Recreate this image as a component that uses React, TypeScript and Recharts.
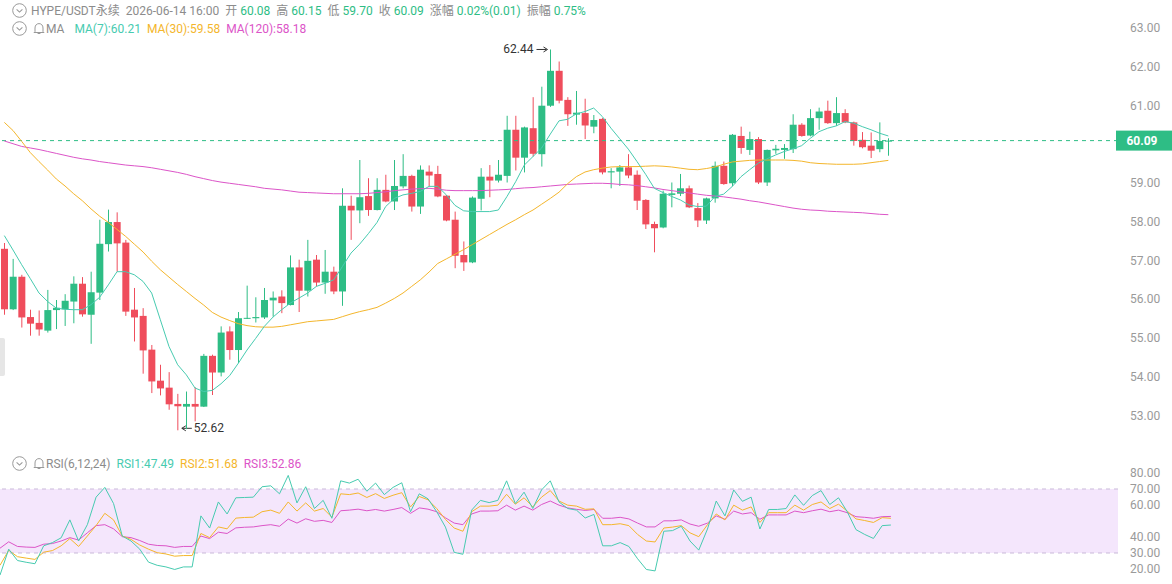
import React from "react";
import {
  ComposedChart,
  Bar,
  Line,
  XAxis,
  YAxis,
  ReferenceLine,
  ReferenceArea,
} from "recharts";

// candles, oldest first
const opens = [
  57.3, 55.74, 56.58, 55.54, 55.39, 55.19, 55.72, 55.74, 55.94, 56.4,
  55.6, 56.17, 57.42, 57.99, 57.46, 55.73, 55.57, 54.7, 53.9, 53.72,
  53.3, 53.23, 53.3, 53.23, 54.54, 54.11, 55.17, 54.69, 55.5, 55.51,
  55.53, 55.97, 56.07, 55.85, 56.82, 56.22, 57.02, 56.43, 56.71, 56.2,
  58.41, 58.29, 58.66, 58.3, 58.82, 58.52, 58.91, 59.18, 58.39, 59.29,
  59.23, 58.67, 58.05, 57.14, 56.95, 58.59, 59.16, 59.06, 59.18, 60.37,
  59.65, 60.41, 59.74, 60.99, 61.89, 61.14, 60.76, 60.8, 60.45, 60.65,
  59.27, 59.29, 59.4, 59.21, 58.56, 57.94, 57.85, 58.69, 58.72, 58.86,
  58.35, 58.03, 58.6, 59.44, 58.99, 60.21, 59.85, 60.13, 59.01, 59.84,
  59.85, 59.87, 60.5, 60.22, 60.67, 60.86, 60.54, 60.8, 60.56, 60.11,
  59.96, 59.87, 60.08,
];
const highs = [
  57.45, 57.04, 56.63, 55.73, 55.71, 56.24, 55.98, 56.13, 56.59, 56.57,
  56.71, 58.05, 58.31, 58.24, 57.53, 56.29, 55.77, 54.82, 54.31, 54.12,
  53.56, 53.62, 53.73, 54.59, 54.57, 55.3, 55.3, 55.67, 56.35, 56.05,
  56.29, 56.2, 56.23, 57.13, 57.02, 57.53, 57.14, 57.27, 56.84, 58.86,
  58.67, 59.59, 59.12, 59.12, 59.21, 59.59, 59.74, 59.21, 59.45, 59.45,
  59.44, 58.69, 58.26, 57.49, 58.65, 59.38, 59.46, 59.59, 60.73, 60.73,
  60.45, 61.21, 61.48, 62.44, 62.13, 61.21, 61.37, 61.17, 60.75, 60.67,
  59.38, 59.46, 59.74, 59.32, 58.58, 58.0, 58.8, 59.01, 59.23, 58.93,
  58.48, 58.62, 59.55, 59.55, 60.26, 60.45, 60.32, 60.18, 59.86, 59.98,
  60.0, 60.77, 60.54, 60.9, 60.94, 61.12, 61.21, 60.9, 60.58, 60.31,
  60.3, 60.56, 60.15,
];
const lows = [
  55.6, 55.72, 55.27, 55.06, 55.06, 55.14, 55.23, 55.31, 55.38, 55.55,
  54.85, 55.98, 57.23, 56.71, 55.57, 54.91, 54.08, 53.58, 53.52, 53.15,
  52.62, 52.65, 52.85, 53.22, 53.53, 54.01, 54.44, 54.35, 55.49, 55.4,
  55.49, 55.55, 55.64, 55.84, 55.67, 56.07, 56.33, 56.14, 56.13, 55.83,
  57.53, 57.96, 58.15, 58.29, 58.5, 58.3, 58.86, 58.26, 58.2, 58.91,
  58.63, 58.01, 56.8, 56.73, 56.93, 58.29, 58.63, 59.01, 59.01, 59.32,
  59.27, 59.68, 59.42, 60.96, 61.05, 60.47, 60.5, 60.13, 60.28, 59.22,
  58.86, 58.92, 59.12, 58.3, 57.81, 57.21, 57.83, 58.37, 58.66, 58.35,
  57.86, 57.94, 58.49, 58.95, 58.91, 59.75, 59.72, 58.97, 58.92, 59.75,
  59.62, 59.77, 60.19, 60.2, 60.37, 60.52, 60.47, 60.54, 59.96, 59.89,
  59.64, 59.79, 59.7,
];
const closes = [
  55.74, 56.58, 55.53, 55.37, 55.22, 55.72, 55.78, 55.96, 56.4, 55.61,
  56.18, 57.43, 57.99, 57.44, 55.68, 55.53, 54.68, 53.88, 53.7, 53.29,
  53.24, 53.3, 53.23, 54.54, 54.11, 55.14, 54.69, 55.51, 55.52, 55.54,
  55.98, 56.04, 55.9, 56.82, 56.22, 56.99, 56.43, 56.71, 56.2, 58.41,
  58.29, 58.63, 58.3, 58.82, 58.52, 58.92, 59.18, 58.39, 59.34, 59.19,
  58.65, 58.03, 57.12, 56.95, 58.62, 59.16, 59.06, 59.21, 60.37, 59.65,
  60.43, 59.75, 60.99, 61.89, 61.12, 60.77, 60.81, 60.48, 60.62, 59.27,
  59.3, 59.4, 59.19, 58.54, 57.93, 57.83, 58.72, 58.73, 58.86, 58.37,
  58.03, 58.6, 59.44, 58.97, 60.24, 59.9, 60.13, 59.01, 59.85, 59.88,
  59.9, 60.5, 60.21, 60.67, 60.84, 60.54, 60.8, 60.56, 60.08, 59.92,
  59.83, 60.08, 60.09,
];

// moving averages as drawn
const ma7 = [
  57.64, 57.27, 56.89, 56.53, 56.16, 55.94, 55.77, 55.74, 55.73, 55.73,
  55.86, 56.05, 56.37, 56.71, 56.71, 56.63, 56.46, 56.16, 55.47, 54.78,
  54.31, 54.05, 53.71, 53.62, 53.65, 53.82, 54.03, 54.35, 54.69, 54.99,
  55.3, 55.54, 55.73, 55.9, 56.03, 56.16, 56.33, 56.41, 56.5, 56.84,
  57.19, 57.42, 57.69, 57.98, 58.39, 58.6, 58.69, 58.73, 58.78, 58.91,
  58.91, 58.69, 58.42, 58.28, 58.26, 58.26, 58.26, 58.3, 58.65, 59.03,
  59.46, 59.68, 59.9, 60.26, 60.6, 60.64, 60.78, 60.84, 60.93, 60.71,
  60.41, 60.14, 59.87, 59.55, 59.22, 58.86, 58.75, 58.65, 58.56, 58.43,
  58.39, 58.4, 58.65, 58.71, 58.91, 59.16, 59.34, 59.51, 59.62, 59.72,
  59.81, 59.88, 59.96, 60.15, 60.32, 60.41, 60.47, 60.58, 60.54, 60.45,
  60.37, 60.28, 60.21,
];
const ma30 = [
  60.56, 60.35, 60.07, 59.78, 59.55, 59.33, 59.1, 58.92, 58.72, 58.54,
  58.33, 58.14, 57.98, 57.8, 57.62, 57.42, 57.22, 56.98, 56.76, 56.57,
  56.38, 56.2, 56.02, 55.85, 55.66, 55.54, 55.45, 55.37, 55.32, 55.29,
  55.28, 55.28, 55.3, 55.34, 55.38, 55.42, 55.44, 55.46, 55.48, 55.55,
  55.62, 55.68, 55.73, 55.79, 55.9, 56.02, 56.16, 56.33, 56.5, 56.7,
  56.92, 57.04, 57.16, 57.28, 57.41, 57.54, 57.67, 57.8, 57.93, 58.05,
  58.18, 58.3, 58.45, 58.6, 58.76, 58.98, 59.16, 59.28, 59.34, 59.38,
  59.41, 59.42, 59.42, 59.42, 59.43, 59.44, 59.43, 59.41, 59.38, 59.35,
  59.34, 59.37, 59.41, 59.48, 59.54, 59.56, 59.58, 59.59, 59.59, 59.59,
  59.59, 59.58, 59.56, 59.52, 59.5, 59.49, 59.48, 59.48, 59.48, 59.49,
  59.52, 59.55, 59.58,
];
const ma120 = [
  60.08, 60.01, 59.94, 59.9, 59.86, 59.81, 59.76, 59.71, 59.66, 59.62,
  59.59, 59.55, 59.52, 59.49, 59.46, 59.44, 59.42, 59.39, 59.35, 59.31,
  59.27, 59.22, 59.16, 59.11, 59.06, 59.02, 58.99, 58.96, 58.93, 58.9,
  58.86, 58.84, 58.82, 58.79, 58.76, 58.75, 58.74, 58.73, 58.72, 58.72,
  58.72, 58.72, 58.73, 58.75, 58.77, 58.8, 58.82, 58.84, 58.85, 58.86,
  58.84, 58.81, 58.8, 58.8, 58.8, 58.8, 58.81, 58.82, 58.83, 58.85,
  58.87, 58.88, 58.9, 58.92, 58.94, 58.96, 58.97, 58.98, 58.99, 58.99,
  58.98, 58.96, 58.95, 58.93, 58.9, 58.87, 58.83, 58.8, 58.77, 58.74,
  58.71, 58.68, 58.66, 58.64, 58.61, 58.58, 58.54, 58.51, 58.47, 58.43,
  58.39, 58.35, 58.32, 58.3, 58.29, 58.27, 58.26, 58.25, 58.24, 58.23,
  58.21, 58.19, 58.18,
];

// RSI(6,12,24)
const rsi1 = [
  16.2, 32.4, 25.3, 24.2, 23.3, 34.5, 36.5, 39.5, 50.7, 37.5,
  47.7, 64.9, 71.0, 60.9, 40.6, 37.5, 32.4, 24.3, 22.3, 21.3,
  19.7, 21.3, 21.3, 53.2, 45.6, 61.9, 54.4, 64.5, 64.7, 64.9,
  71.4, 72.0, 67.0, 78.5, 61.3, 71.4, 57.8, 62.9, 51.7, 75.1,
  73.7, 76.1, 68.6, 73.7, 66.5, 71.0, 73.9, 55.8, 67.0, 63.9,
  55.8, 46.2, 30.4, 29.2, 56.8, 62.9, 61.5, 62.9, 75.1, 60.9,
  68.0, 57.8, 69.4, 75.1, 61.9, 57.8, 56.8, 51.9, 54.1, 34.5,
  34.5, 36.5, 34.1, 26.4, 19.7, 18.8, 43.6, 44.0, 46.7, 37.5,
  31.8, 45.0, 62.5, 53.2, 69.4, 62.3, 64.9, 45.0, 57.2, 57.2,
  57.8, 66.3, 59.8, 65.9, 69.0, 60.3, 64.5, 55.8, 44.6, 41.6,
  39.1, 47.1, 47.49,
];
const rsi2 = [
  22.3, 31.7, 27.7, 26.8, 26.0, 30.5, 31.5, 34.5, 39.0, 34.1,
  40.6, 47.1, 54.8, 50.7, 40.6, 38.5, 35.0, 32.4, 30.2, 29.4,
  28.0, 28.4, 28.4, 42.2, 39.6, 46.3, 45.1, 51.8, 52.2, 52.4,
  55.8, 56.8, 54.8, 61.9, 56.2, 61.3, 56.2, 57.8, 52.4, 67.0,
  66.5, 67.5, 64.7, 67.1, 64.1, 66.1, 67.7, 58.8, 65.3, 63.3,
  57.8, 51.0, 45.6, 43.6, 55.8, 59.3, 59.3, 59.9, 66.7, 60.5,
  64.5, 58.8, 64.9, 69.0, 62.5, 59.9, 59.3, 57.3, 57.6, 47.7,
  47.7, 48.3, 47.1, 41.6, 37.5, 36.9, 45.6, 46.2, 47.1, 42.6,
  40.2, 47.7, 54.4, 50.7, 59.9, 56.8, 58.8, 49.1, 55.2, 55.2,
  55.2, 59.9, 56.8, 60.3, 61.9, 57.8, 60.5, 56.2, 51.3, 50.3,
  49.1, 52.1, 51.68,
];
const rsi3 = [
  33.0, 37.0, 34.1, 33.7, 33.5, 35.5, 35.9, 37.5, 39.6, 38.1,
  42.6, 47.1, 47.7, 45.1, 40.2, 39.6, 37.8, 35.5, 34.7, 34.5,
  33.5, 34.1, 34.1, 40.6, 39.0, 43.0, 42.2, 45.7, 46.1, 46.3,
  47.1, 47.7, 46.7, 51.2, 48.7, 51.4, 49.8, 50.4, 49.1, 56.4,
  56.8, 57.4, 56.4, 57.2, 56.2, 57.2, 58.4, 54.8, 58.2, 57.4,
  55.8, 52.0, 48.7, 47.7, 54.4, 56.2, 56.2, 56.4, 59.9, 56.8,
  59.3, 56.8, 60.3, 62.5, 59.9, 58.2, 57.3, 56.6, 57.2, 51.7,
  51.7, 52.3, 51.3, 48.7, 46.3, 46.3, 50.1, 50.1, 50.7, 48.1,
  46.7, 48.7, 53.2, 51.1, 56.2, 54.4, 55.2, 51.1, 53.8, 53.8,
  53.8, 56.2, 55.2, 56.4, 57.4, 55.8, 56.8, 55.2, 52.7, 52.3,
  51.7, 52.7, 52.86,
];

// 60.00 sits under the last-price tag, so it is not listed
const priceTicks = [53, 54, 55, 56, 57, 58, 59, 61, 62, 63];
const rsiTicks = [20, 30, 40, 60, 70, 80];
const lastPrice = 60.09;
const SLOTS = 129; // visible candle slots incl. empty space on the right

const UP = "#2ebd85";
const DOWN = "#ef4d5c";
const GREY = "#8c8c8c";
const C_MA7 = "#47cbb0";
const C_MA30 = "#f4b62c";
const C_MA120 = "#dc55c8";
const FONT = "Roboto, 'Noto Sans CJK SC', sans-serif";

const maxIdx = highs.indexOf(Math.max(...highs));
const minIdx = lows.indexOf(Math.min(...lows));

const rows = Array.from({ length: SLOTS }, (_, i) =>
  i < closes.length
    ? {
        i,
        open: opens[i],
        high: highs[i],
        low: lows[i],
        close: closes[i],
        range: [lows[i], highs[i]],
        ma7: ma7[i],
        ma30: ma30[i],
        ma120: ma120[i],
        rsi1: rsi1[i],
        rsi2: rsi2[i],
        rsi3: rsi3[i],
      }
    : { i }
);

const Candle = (props: any) => {
  const { x, y, width, height, payload } = props;
  if (payload == null || payload.high == null) return null;
  const { open, close, high, low, i } = payload;
  const top = Math.min(y, y + height);
  const h = Math.abs(height);
  const py = (v: number) => top + ((high - v) / (high - low || 1)) * h;
  const color = close >= open ? UP : DOWN;
  const cx = x + width / 2;
  const bTop = py(Math.max(open, close));
  const bH = Math.max(1, py(Math.min(open, close)) - bTop);
  return (
    <g>
      <line x1={cx} x2={cx} y1={top} y2={top + h} stroke={color} strokeWidth={1} />
      <rect x={x} y={bTop} width={width} height={bH} fill={color} />
      {i === maxIdx && (
        <g>
          <text x={cx - 17} y={top + 4} textAnchor="end" fontSize={12} fill="#333" fontFamily={FONT}>
            {high.toFixed(2)}
          </text>
          <line x1={cx - 14} x2={cx - 4} y1={top} y2={top} stroke="#333" />
          <path d={`M${cx - 7},${top - 2.5} L${cx - 3},${top} L${cx - 7},${top + 2.5}`} fill="none" stroke="#333" />
        </g>
      )}
      {i === minIdx && (
        <g>
          <line x1={cx + 4} x2={cx + 14} y1={top + h - 2} y2={top + h - 2} stroke="#333" />
          <path d={`M${cx + 8},${top + h - 4.5} L${cx + 4},${top + h - 2} L${cx + 8},${top + h + 0.5}`} fill="none" stroke="#333" />
          <text x={cx + 16} y={top + h + 2} fontSize={12} fill="#333" fontFamily={FONT}>
            {low.toFixed(2)}
          </text>
        </g>
      )}
    </g>
  );
};

const PriceTag = (props: any) => {
  const vb = props.viewBox || {};
  const x = (vb.x || 0) + (vb.width || 0) - 2;
  const y = vb.y || 0;
  return (
    <g>
      <rect x={x} y={y - 10} width={60} height={20} fill={UP} />
      <text x={x + 26} y={y + 4} textAnchor="middle" fontSize={12} fontWeight={700} fill="#fff" fontFamily={FONT}>
        {lastPrice.toFixed(2)}
      </text>
    </g>
  );
};

const CircleIcon = () => (
  <svg width={15} height={15} viewBox="0 0 15 15" style={{ display: "block" }}>
    <circle cx={7.5} cy={7.5} r={6.8} fill="none" stroke="#999" strokeWidth={1} />
    <path d="M4.6,6.3 L7.5,9.1 L10.4,6.3" fill="none" stroke="#999" strokeWidth={1.1} />
  </svg>
);

const BellIcon = () => (
  <svg width={12} height={13} viewBox="0 0 12 13" style={{ display: "block" }}>
    <path d="M2,9.5 L2,6 C2,3.2 3.8,1.6 6,1.6 C8.2,1.6 10,3.2 10,6 L10,9.5 L11,10.5 L1,10.5 Z" fill="none" stroke="#999" strokeWidth={1} />
    <path d="M4.6,11.5 L7.4,11.5" stroke="#999" strokeWidth={1} />
  </svg>
);

const row: React.CSSProperties = {
  position: "absolute",
  left: 12,
  display: "flex",
  alignItems: "center",
  fontSize: 12,
  fontFamily: FONT,
  color: GREY,
  whiteSpace: "nowrap",
  lineHeight: "14px",
};

const headerPairs: [string, string][] = [
  ["开", "60.08"],
  ["高", "60.15"],
  ["低", "59.70"],
  ["收", "60.09"],
  ["涨幅", "0.02%(0.01)"],
  ["振幅", "0.75%"],
];

export default function App() {
  const yTick = { fill: "#9a9a9a", fontSize: 12, fontFamily: FONT };
  return (
    <div style={{ position: "absolute", left: 0, top: 0, width: 1172, height: 584, background: "#fff", overflow: "hidden" }}>
      <div style={{ position: "absolute", left: 0, top: 0 }}>
        <ComposedChart width={1172} height={445} data={rows} margin={{ top: 20, right: 0, bottom: 5, left: 0 }} barCategoryGap={0}>
          <XAxis dataKey="i" type="category" hide />
          <YAxis
            orientation="right"
            width={54}
            domain={[52.37, 63.2]}
            allowDataOverflow
            ticks={priceTicks}
            tickFormatter={(v: number) => v.toFixed(2)}
            tick={yTick}
            tickLine={false}
            axisLine={false}
            tickSize={0}
            tickMargin={12}
            interval={0}
          />
          <ReferenceLine y={lastPrice} stroke={UP} strokeDasharray="4 4" strokeWidth={1} label={PriceTag} />
          <Bar dataKey="range" barSize={7} shape={Candle} isAnimationActive={false} />
          <Line dataKey="ma120" stroke={C_MA120} strokeWidth={1} dot={false} isAnimationActive={false} />
          <Line dataKey="ma30" stroke={C_MA30} strokeWidth={1} dot={false} isAnimationActive={false} />
          <Line dataKey="ma7" stroke={C_MA7} strokeWidth={1} dot={false} isAnimationActive={false} />
        </ComposedChart>
      </div>

      <div style={{ position: "absolute", left: 0, top: 445 }}>
        <ComposedChart width={1172} height={139} data={rows} margin={{ top: 20, right: 0, bottom: 0, left: 0 }}>
          <XAxis dataKey="i" type="category" hide />
          <YAxis
            orientation="right"
            width={54}
            domain={[10.625, 85]}
            allowDataOverflow
            ticks={rsiTicks}
            tickFormatter={(v: number) => v.toFixed(2)}
            tick={yTick}
            tickLine={false}
            axisLine={false}
            tickSize={0}
            tickMargin={12}
            interval={0}
          />
          <ReferenceArea y1={30} y2={70} fill="#f4e6fc" fillOpacity={1} stroke="none" />
          <ReferenceLine y={70} stroke="#c9b9d9" strokeDasharray="4 4" />
          <ReferenceLine y={30} stroke="#c9b9d9" strokeDasharray="4 4" />
          <Line dataKey="rsi3" stroke={C_MA120} strokeWidth={1} dot={false} isAnimationActive={false} />
          <Line dataKey="rsi2" stroke={C_MA30} strokeWidth={1} dot={false} isAnimationActive={false} />
          <Line dataKey="rsi1" stroke={C_MA7} strokeWidth={1} dot={false} isAnimationActive={false} />
        </ComposedChart>
      </div>

      {/* header rows */}
      <div style={{ ...row, top: 3 }}>
        <CircleIcon />
        <span style={{ marginLeft: 4 }}>HYPE/USDT永续</span>
        <span style={{ marginLeft: 6 }}>2026-06-14 16:00</span>
        {headerPairs.map(([k, v]) => (
          <React.Fragment key={k}>
            <span style={{ marginLeft: 6 }}>{k}</span>
            <span style={{ marginLeft: 3, color: UP }}>{v}</span>
          </React.Fragment>
        ))}
      </div>
      <div style={{ ...row, top: 21 }}>
        <CircleIcon />
        <span style={{ marginLeft: 6 }}><BellIcon /></span>
        <span style={{ marginLeft: 1 }}>MA</span>
        <span style={{ marginLeft: 10, color: C_MA7 }}>MA(7):60.21</span>
        <span style={{ marginLeft: 6, color: C_MA30 }}>MA(30):59.58</span>
        <span style={{ marginLeft: 6, color: C_MA120 }}>MA(120):58.18</span>
      </div>
      <div style={{ ...row, top: 456 }}>
        <CircleIcon />
        <span style={{ marginLeft: 6 }}><BellIcon /></span>
        <span style={{ marginLeft: 1 }}>RSI(6,12,24)</span>
        <span style={{ marginLeft: 6, color: C_MA7 }}>RSI1:47.49</span>
        <span style={{ marginLeft: 6, color: C_MA30 }}>RSI2:51.68</span>
        <span style={{ marginLeft: 6, color: C_MA120 }}>RSI3:52.86</span>
      </div>

      {/* collapsed side handle on the left edge */}
      <div style={{ position: "absolute", left: 0, top: 338, width: 5, height: 38, background: "#e6e6e6", borderRadius: "0 2px 2px 0" }} />
    </div>
  );
}
